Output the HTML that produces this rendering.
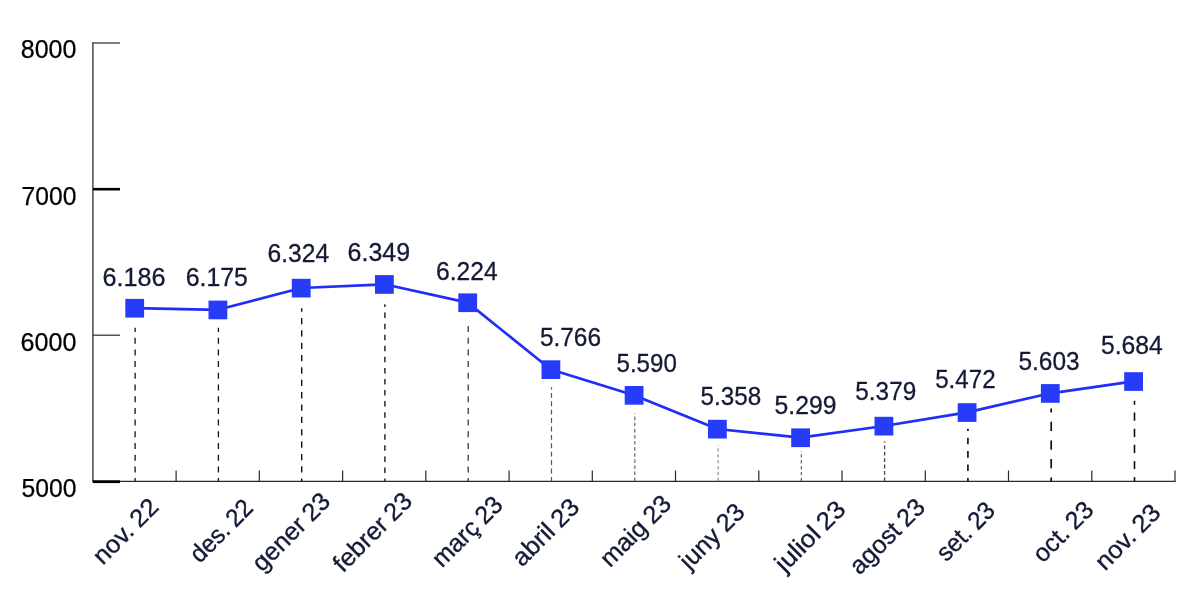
<!DOCTYPE html>
<html lang="ca"><head><meta charset="utf-8"><title>Gràfic</title>
<style>html,body{margin:0;padding:0;background:#fff}svg{display:block}text{font-family:"Liberation Sans",sans-serif}</style>
</head><body>
<svg width="1181" height="592" viewBox="0 0 1181 592">
<rect width="1181" height="592" fill="#fff"/>
<g fill="none">
<path d="M92.9 42.6V482" stroke="#3a3a3a" stroke-width="1.4"/>
<path d="M93 481.3H1175.7" stroke="#2a2a2a" stroke-width="1.3"/>
<path d="M92.3 43H120" stroke="#3a3a3a" stroke-width="1.3"/>
<path d="M93 189.2H120" stroke="#000" stroke-width="2.6"/>
<path d="M93 335.2H120" stroke="#2a2a2a" stroke-width="1.2"/>
<path d="M92.8 481.7H120" stroke="#000" stroke-width="2.8"/>
<path d="M176.1 470.5V481.3M259.3 470.5V481.3M342.6 470.5V481.3M425.8 470.5V481.3M509.1 470.5V481.3M592.3 470.5V481.3M675.5 470.5V481.3M758.8 470.5V481.3M842.0 470.5V481.3M925.3 470.5V481.3M1008.5 470.5V481.3M1091.8 470.5V481.3M1175.0 470.5V481.3" stroke="#2a2a2a" stroke-width="1.2"/>
<path d="M135.1 481.2V327.8" stroke="#111" stroke-width="1.3" stroke-dasharray="6.0 5.7" stroke-dashoffset="2.9"/>
<path d="M218.4 481.2V327.8" stroke="#111" stroke-width="1.3" stroke-dasharray="6.0 5.7" stroke-dashoffset="2.9"/>
<path d="M301.7 481.2V308.2" stroke="#111" stroke-width="1.4" stroke-dasharray="6.3 6.06" stroke-dashoffset="3.7"/>
<path d="M384.9 481.2V304.3" stroke="#2a2a2a" stroke-width="1.5" stroke-dasharray="5.5 5.56" stroke-dashoffset="2.8"/>
<path d="M468.2 481.2V321.3" stroke="#333" stroke-width="1.25" stroke-dasharray="6.0 5.7" stroke-dashoffset="2.9"/>
<path d="M551.5 481.2V387.2" stroke="#555" stroke-width="1.2" stroke-dasharray="4.9 3.5" stroke-dashoffset="0.6"/>
<path d="M634.8 481.2V413.6" stroke="#666" stroke-width="1.2" stroke-dasharray="3.6 2.5" stroke-dashoffset="0"/>
<path d="M718.1 481.2V445.3" stroke="#777" stroke-width="1.0" stroke-dasharray="3.4 2.5" stroke-dashoffset="0"/>
<path d="M801.3 481.2V451.2" stroke="#555" stroke-width="1.1" stroke-dasharray="3.4 2.5" stroke-dashoffset="0"/>
<path d="M884.6 481.2V441.6" stroke="#444" stroke-width="1.3" stroke-dasharray="3.8 2.6" stroke-dashoffset="0"/>
<path d="M967.9 481.2V428.7" stroke="#222" stroke-width="1.8" stroke-dasharray="6.6 6.8" stroke-dashoffset="3.3"/>
<path d="M1051.2 481.2V408.6" stroke="#111" stroke-width="1.7" stroke-dasharray="9.3 9.3" stroke-dashoffset="5.7"/>
<path d="M1134.5 481.2V400.8" stroke="#111" stroke-width="1.6" stroke-dasharray="8.2 7.9" stroke-dashoffset="4.0"/>
<polyline points="134.7,308.1 217.9,309.8 301.2,288.0 384.4,284.3 467.7,302.6 550.9,369.5 634.1,395.2 717.4,429.0 800.6,437.6 883.9,426.0 967.1,412.4 1050.3,393.3 1133.6,381.4" stroke="#1f2df6" stroke-width="2.7" stroke-linejoin="round"/>
</g>
<g fill="#273cf9">
<rect x="125.3" y="298.9" width="18.8" height="18.7"/>
<rect x="208.5" y="300.6" width="18.8" height="18.7"/>
<rect x="291.8" y="278.8" width="18.8" height="18.7"/>
<rect x="375.0" y="275.1" width="18.8" height="18.7"/>
<rect x="458.3" y="293.4" width="18.8" height="18.7"/>
<rect x="541.5" y="360.3" width="18.8" height="18.7"/>
<rect x="624.7" y="386.0" width="18.8" height="18.7"/>
<rect x="708.0" y="419.8" width="18.8" height="18.7"/>
<rect x="791.2" y="428.4" width="18.8" height="18.7"/>
<rect x="874.5" y="416.8" width="18.8" height="18.7"/>
<rect x="957.7" y="403.2" width="18.8" height="18.7"/>
<rect x="1040.9" y="384.1" width="18.8" height="18.7"/>
<rect x="1124.2" y="372.2" width="18.8" height="18.7"/>
</g>
<g font-size="25" fill="#000" stroke="#000" stroke-width="0.25">
<text x="20.8" y="58.3" textLength="55.6" lengthAdjust="spacingAndGlyphs">8000</text>
<text x="21.6" y="204.8" textLength="54.8" lengthAdjust="spacingAndGlyphs">7000</text>
<text x="20.6" y="350.6" textLength="55.8" lengthAdjust="spacingAndGlyphs">6000</text>
<text x="21.5" y="496.8" textLength="54.9" lengthAdjust="spacingAndGlyphs">5000</text>
</g>
<g font-size="25.2" fill="#141a36" stroke="#141a36" stroke-width="0.3">
<text x="102.5" y="286.3" textLength="63.0" lengthAdjust="spacingAndGlyphs">6.186</text>
<text x="185.8" y="286.3" textLength="62.1" lengthAdjust="spacingAndGlyphs">6.175</text>
<text x="267.6" y="261.9" textLength="61.5" lengthAdjust="spacingAndGlyphs">6.324</text>
<text x="347.6" y="261.1" textLength="62.4" lengthAdjust="spacingAndGlyphs">6.349</text>
<text x="436.0" y="279.7" textLength="61.6" lengthAdjust="spacingAndGlyphs">6.224</text>
<text x="539.9" y="345.7" textLength="61.1" lengthAdjust="spacingAndGlyphs">5.766</text>
<text x="616.5" y="372.3" textLength="60.3" lengthAdjust="spacingAndGlyphs">5.590</text>
<text x="700.5" y="405.1" textLength="60.6" lengthAdjust="spacingAndGlyphs">5.358</text>
<text x="774.6" y="414.4" textLength="61.8" lengthAdjust="spacingAndGlyphs">5.299</text>
<text x="855.3" y="400.4" textLength="60.9" lengthAdjust="spacingAndGlyphs">5.379</text>
<text x="935.2" y="387.5" textLength="60.4" lengthAdjust="spacingAndGlyphs">5.472</text>
<text x="1018.5" y="370.2" textLength="61.1" lengthAdjust="spacingAndGlyphs">5.603</text>
<text x="1100.9" y="354.0" textLength="61.8" lengthAdjust="spacingAndGlyphs">5.684</text>
</g>
<g font-size="25" fill="#141a36" stroke="#141a36" stroke-width="0.35" text-anchor="end" style="word-spacing:-1.2px">
<text transform="translate(160 508.5) rotate(-45)" textLength="81" lengthAdjust="spacingAndGlyphs">nov. 22</text>
<text transform="translate(254.5 509.3) rotate(-45)" textLength="77.5" lengthAdjust="spacingAndGlyphs">des. 22</text>
<text transform="translate(331.8 502.9) rotate(-45)" textLength="98.7" lengthAdjust="spacingAndGlyphs">gener 23</text>
<text transform="translate(413.7 502.6) rotate(-45)" textLength="100.1" lengthAdjust="spacingAndGlyphs">febrer 23</text>
<text transform="translate(504.3 506.2) rotate(-45)" textLength="88" lengthAdjust="spacingAndGlyphs">març 23</text>
<text transform="translate(581.0 508.7) rotate(-45)" textLength="83.4" lengthAdjust="spacingAndGlyphs">abril 23</text>
<text transform="translate(672.8 505.4) rotate(-45)" textLength="88.9" lengthAdjust="spacingAndGlyphs">maig 23</text>
<text transform="translate(746.2 513.4) rotate(-45)" textLength="80.6" lengthAdjust="spacingAndGlyphs">juny 23</text>
<text transform="translate(847.0 511.0) rotate(-45)" textLength="88" lengthAdjust="spacingAndGlyphs">juliol 23</text>
<text transform="translate(926.5 508.6) rotate(-45)" textLength="94.8" lengthAdjust="spacingAndGlyphs">agost 23</text>
<text transform="translate(996.6 512.1) rotate(-45)" textLength="71.2" lengthAdjust="spacingAndGlyphs">set. 23</text>
<text transform="translate(1095.0 511.4) rotate(-45)" textLength="74" lengthAdjust="spacingAndGlyphs">oct. 23</text>
<text transform="translate(1162.2 514.1) rotate(-45)" textLength="81" lengthAdjust="spacingAndGlyphs">nov. 23</text>
</g>
</svg>
</body></html>
